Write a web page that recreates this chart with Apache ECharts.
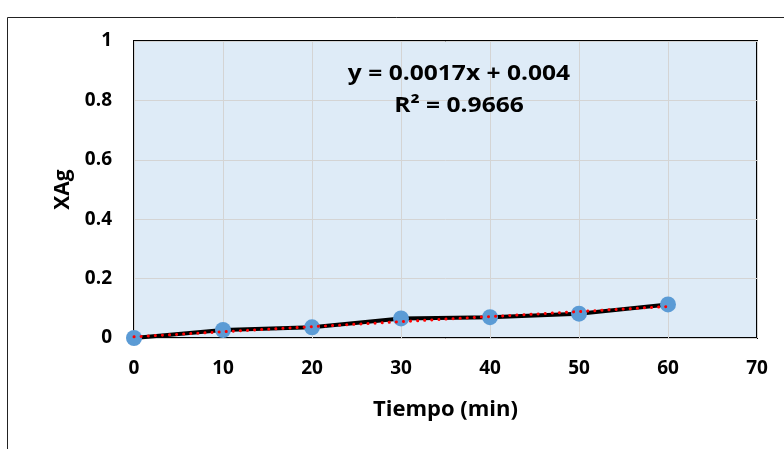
<!DOCTYPE html>
<html><head><meta charset="utf-8">
<script src="https://cdn.jsdelivr.net/npm/echarts@6/dist/echarts.min.js"></script>
<style>html,body{margin:0;padding:0;background:#fff}#c{width:784px;height:449px}</style>
</head><body><div id="c"></div>
<script>
const tiempo = [0, 10, 20, 30, 40, 50, 60];
const xag = [0, 0.027, 0.036, 0.066, 0.070, 0.082, 0.113];
const xTicks = [0, 10, 20, 30, 40, 50, 60, 70];
const yTicks = [0, 0.2, 0.4, 0.6, 0.8, 1];
const trendSlope = 0.0017;
const trendIntercept = 0.004;
const trendRange = [0, 60];
const eqText = 'y = 0.0017x + 0.004';
const r2Text = 'R² = 0.9666';

const trend = trendRange.map(x => [x, trendSlope * x + trendIntercept]);
const FONT = 'Open Sans';
const chart = echarts.init(document.getElementById('c'), null, {renderer: 'canvas'});
chart.setOption({
  animation: false,
  backgroundColor: '#fff',
  grid: {left: 134, top: 41, right: 27, bottom: 111, show: true,
         backgroundColor: '#DEEBF7', borderColor: '#000', borderWidth: 2},
  xAxis: {type: 'value', min: 0, max: 70, interval: 10,
    name: 'Tiempo (min)', nameLocation: 'middle', nameGap: 61,
    nameTextStyle: {fontFamily: FONT, fontWeight: 'bold', fontSize: 22, color: '#000'},
    axisLine: {show: false}, axisTick: {show: false},
    axisLabel: {fontFamily: FONT, fontWeight: 'bold', fontSize: 19, color: '#000', margin: 21,
      formatter: v => xTicks.includes(v) ? String(v) : ''},
    splitLine: {show: true, lineStyle: {color: '#D4D4D4', width: 1}}},
  yAxis: {type: 'value', min: 0, max: 1, interval: 0.2,
    name: 'XAg', nameLocation: 'middle', nameGap: 26, nameRotate: 90,
    nameTextStyle: {fontFamily: FONT, fontWeight: 'bold', fontSize: 21, color: '#000'},
    axisLine: {show: false}, axisTick: {show: false},
    axisLabel: {fontFamily: FONT, fontWeight: 'bold', fontSize: 19, color: '#000', margin: 22,
      formatter: v => String(yTicks.find(t => Math.abs(t - v) < 1e-9) ?? '')},
    splitLine: {show: true, lineStyle: {color: '#D4D4D4', width: 1}}},
  series: [
    {type: 'line', data: tiempo.map((x, i) => [x, xag[i]]), z: 2,
     lineStyle: {color: '#000', width: 4}, symbol: 'circle', symbolSize: 16,
     itemStyle: {color: '#5B9BD5'}},
    {type: 'line', data: trend, z: 3, symbol: 'none',
     lineStyle: {color: '#FF0000', width: 3, type: [0.1, 7], cap: 'round'}}
  ],
  graphic: [
    {type: 'rect', shape: {x: 7.5, y: 17.5, width: 800, height: 460}, silent: true, z: -10,
     style: {fill: 'none', stroke: '#222', lineWidth: 1}},
    {type: 'text', x: 459, y: 74, scaleX: 1.17, z: 10,
     style: {text: eqText, x: 0, y: 0, align: 'center', verticalAlign: 'middle',
      font: 'bold 21px ' + FONT, fill: '#000'}},
    {type: 'text', x: 459, y: 106, scaleX: 1.17, z: 10,
     style: {text: r2Text, x: 0, y: 0, align: 'center', verticalAlign: 'middle',
      font: 'bold 21px ' + FONT, fill: '#000'}}
  ]
});
</script></body></html>
